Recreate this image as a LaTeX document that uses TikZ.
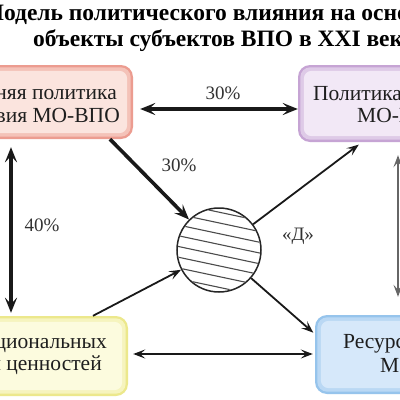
\documentclass[tikz,border=0pt]{standalone}
\usepackage{fontspec}
\setmainfont{Liberation Serif}
\usetikzlibrary{arrows.meta,calc}
\definecolor{pinkO}{RGB}{236,156,144}
\definecolor{pinkM}{RGB}{244,194,184}
\definecolor{pinkI}{RGB}{251,228,222}
\definecolor{lavO}{RGB}{198,164,212}
\definecolor{lavM}{RGB}{222,202,231}
\definecolor{lavI}{RGB}{242,232,246}
\definecolor{yelO}{RGB}{236,232,140}
\definecolor{yelM}{RGB}{246,244,190}
\definecolor{yelI}{RGB}{252,251,222}
\definecolor{bluO}{RGB}{150,196,236}
\definecolor{bluM}{RGB}{186,216,244}
\definecolor{bluI}{RGB}{214,232,250}
\definecolor{txt}{RGB}{30,30,30}
\definecolor{lbl}{RGB}{50,50,50}
\tikzset{
  boxshape/.style={rounded corners=12pt, inner sep=0pt, draw=none},
  titletext/.style={font=\fontsize{23.5}{27}\selectfont\bfseries, text=black, inner sep=0pt},
  boxtext/.style={font=\fontsize{21.5}{25}\selectfont, text=txt, inner sep=0pt},
  lbltext/.style={font=\fontsize{19}{22}\selectfont, text=lbl, inner sep=0pt},
  thickarr/.style={line width=3.6pt, draw=black!90},
  thinarr/.style={line width=1.8pt, draw=black!90},
  tipbig/.tip={Stealth[length=15pt,width=12pt,inset=6pt]},
  tipsmall/.tip={Stealth[length=12pt,width=9pt,inset=5pt]},
}
\newcommand{\glowbox}[3]{%
  \fill[#2, rounded corners=10pt] ($(#1.north west)+(2.5,2.5)$) rectangle ($(#1.south east)+(-2.5,-2.5)$);
  \fill[#3, rounded corners=8pt] ($(#1.north west)+(6,6)$) rectangle ($(#1.south east)+(-6,-6)$);
}
\begin{document}
\begin{tikzpicture}[x=1pt,y=-1pt]
\useasboundingbox (0,0) rectangle (400,400);
\clip (0,0) rectangle (400,400);
\fill[white] (0,0) rectangle (400,400);

% title
\node[titletext, anchor=base west] (t1) at (-18,20) {Модель политического влияния на основные};
\node[titletext, anchor=base west] (t2) at (33,46) {объекты субъектов ВПО в XXI веке};

% boxes
\node[boxshape, fill=pinkO, minimum width=193pt, minimum height=74pt] (tl) at (36.5,102) {};
\glowbox{tl}{pinkM}{pinkI}
\node[boxshape, fill=lavO, minimum width=202pt, minimum height=77pt] (tr) at (399,103.5) {};
\glowbox{tr}{lavM}{lavI}
\node[boxshape, fill=yelO, minimum width=188pt, minimum height=80pt] (bl) at (34,356) {};
\glowbox{bl}{yelM}{yelI}
\node[boxshape, fill=bluO, minimum width=185pt, minimum height=79pt] (br) at (407.5,354.5) {};
\glowbox{br}{bluM}{bluI}

% box texts
\node[boxtext, anchor=base east] (tla) at (117,99) {Внешняя политика};
\node[boxtext, anchor=base east] (tlb) at (120,122) {взаимодействия МО-ВПО};
\node[boxtext, anchor=base west] (tra) at (313,100) {Политика субъектов};
\node[boxtext, anchor=base west] (trb) at (357,122) {МО-ВПО};
\node[boxtext, anchor=base east] (bla) at (107,348) {национальных};
\node[boxtext, anchor=base east] (blb) at (102,370) {интересов и ценностей};
\node[boxtext, anchor=base west] (bra) at (343,348) {Ресурсы};
\node[boxtext, anchor=base west] (brb) at (380,372) {МО-ВПО};

% central circle with hatching
\node[circle, draw=black!85, line width=1.5pt, minimum size=84pt, inner sep=0pt] (circ) at (219,250) {};
\begin{scope}
  \clip (219,250) circle (41);
  \begin{scope}[shift={(219,250)}, rotate=-12]
    \foreach \k in {-4,...,3} {
      \draw[line width=1.1pt, black!70] (-60,\k*10.5+5) -- (60,\k*10.5+5);
    }
  \end{scope}
\end{scope}

% connectors
\draw[thickarr, tipbig-tipbig, shorten <=7pt] (tl.east |- 0,109) -- (tr.west |- 0,109);
\draw[thickarr, tipbig-tipbig, shorten <=8pt, shorten >=3pt] (tl.south -| 11,0) -- (bl.north -| 11,0);
\draw[thickarr, -tipbig] (tl.south -| 110,0) -- (circ);
\draw[thinarr, -tipsmall] (bl.north -| 93,0) -- (circ);
\draw[thinarr, -tipsmall, shorten >=4pt] (circ) -- (tr.south -| 362,0);
\draw[thinarr, -tipsmall, shorten >=2pt] (circ) -- (br.west |- 0,334);
\draw[thinarr, tipsmall-tipsmall, shorten <=5pt, shorten >=2pt] (bl.east |- 0,354) -- (br.west |- 0,354);
\draw[line width=1.6pt, draw=black!60, tipsmall-tipsmall, shorten <=13pt, shorten >=18pt] (tr.south -| 398,0) -- (br.north -| 398,0);

% labels
\node[lbltext] (l1) at (223,93) {30\%};
\node[lbltext] (l2) at (179,165) {30\%};
\node[lbltext] (l3) at (42,225) {40\%};
\node[lbltext] (l4) at (298,236) {«Д»};
\end{tikzpicture}
\end{document}
